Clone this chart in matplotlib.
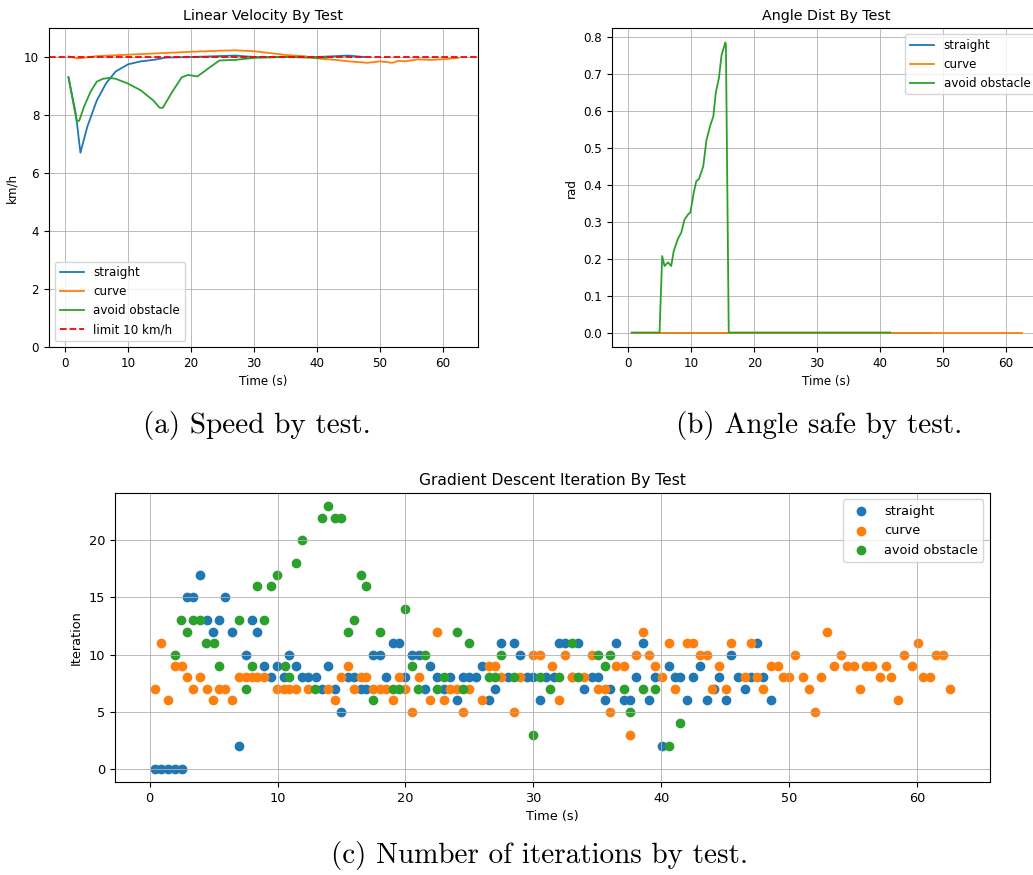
import numpy as np
from matplotlib import pyplot as plt

# ---- speed (km/h) ----
t_v_straight = [0.5, 1.7, 2.4, 3.5, 5.0, 6.5, 8.0, 10.0, 12.0, 14.0, 16.0, 20.0, 27.0, 30.0, 40.0, 45.0, 47.5]
v_straight = [9.3, 8.0, 6.7, 7.6, 8.5, 9.1, 9.5, 9.75, 9.85, 9.9, 9.98, 10.0, 10.05, 10.0, 10.0, 10.05, 10.0]
t_v_curve = [0.5, 2.0, 5.0, 10.0, 15.0, 20.0, 25.0, 27.0, 30.0, 32.0, 35.0, 38.0, 40.0, 43.0, 45.0, 48.0,
             50.0, 52.0, 53.0, 54.0, 56.0, 58.0, 60.0, 62.5]
v_curve = [10.02, 9.95, 10.03, 10.08, 10.13, 10.18, 10.22, 10.23, 10.2, 10.15, 10.07, 10.03, 9.95, 9.9, 9.85, 9.8,
           9.85, 9.8, 9.87, 9.85, 9.92, 9.9, 9.92, 9.97]
t_v_avoid = [0.5, 1.8, 2.2, 3.0, 4.0, 5.0, 6.0, 7.0, 8.0, 10.0, 12.0, 14.0, 15.0, 15.5, 17.0, 18.5, 19.5,
             21.0, 23.0, 24.5, 27.0, 30.0, 35.0, 40.0, 41.5]
v_avoid = [9.3, 7.8, 7.8, 8.3, 8.8, 9.15, 9.25, 9.28, 9.25, 9.08, 8.85, 8.5, 8.25, 8.25, 8.8, 9.3, 9.38,
           9.33, 9.65, 9.88, 9.9, 9.97, 10.0, 9.97, 9.98]

# ---- angle (rad) ----
t_a_straight = [0.5, 48.0]
a_straight = [0.0, 0.0]
t_a_curve = [0.5, 62.5]
a_curve = [0.0, 0.0]
t_a_avoid = [0.5, 4.95, 5.37, 5.74, 6.3, 6.8, 7.2, 7.9, 8.4, 8.9, 9.5, 9.85, 10.4, 10.8, 11.2, 11.9,
             12.4, 13.0, 13.5, 13.9, 14.4, 14.8, 15.4, 15.5, 15.95, 41.6]
a_avoid = [0.0, 0.0, 0.207, 0.18, 0.19, 0.18, 0.22, 0.255, 0.27, 0.305, 0.32, 0.325, 0.38, 0.41, 0.415, 0.45,
           0.52, 0.56, 0.585, 0.65, 0.69, 0.75, 0.785, 0.78, 0.0, 0.0]

# ---- gradient descent iterations ----
t_i_straight = [0.4, 0.9, 1.4, 1.95, 2.5, 2.9, 3.4, 3.96, 4.5, 4.95, 5.4, 5.9, 6.46, 6.95, 7.5, 8.0, 8.4, 8.96,
                9.5, 9.95, 10.5, 10.9, 11.45, 11.95, 12.4, 13.0, 13.5, 13.95, 14.5, 15.0, 15.5, 16.0, 16.5,
                16.95, 17.5, 18.0, 18.5, 19.0, 19.5, 20.0, 20.5, 21.04, 21.5, 21.95, 22.5, 23.0, 23.5, 24.0,
                24.5, 25.0, 25.5, 26.0, 26.5, 27.0, 27.5, 28.0, 28.5, 29.0, 29.5, 30.0, 30.5, 31.0, 31.6,
                32.0, 32.5, 33.0, 33.5, 34.0, 34.6, 35.05, 35.6, 36.0, 36.5, 37.1, 37.6, 38.05, 38.6, 39.06,
                39.5, 40.05, 40.6, 41.05, 41.5, 42.0, 42.5, 43.0, 43.6, 44.1, 44.55, 45.05, 45.5, 46.0,
                46.56, 47.0, 47.5, 48.0, 48.6]
i_straight = [0, 0, 0, 0, 0, 15, 15, 17, 13, 12, 13, 15, 12, 2, 10, 13, 12, 9,
              8, 9, 8, 10, 9, 8, 8, 8, 7, 9, 7, 5, 8, 8, 7,
              7, 10, 10, 8, 11, 11, 8, 10, 10, 7, 9, 8, 7, 8, 6,
              8, 8, 8, 9, 6, 7, 11, 8, 11, 10, 8, 8, 6, 8, 8,
              11, 11, 8, 11, 7, 8, 8, 6, 7, 11, 6, 6, 8, 11, 6,
              8, 2, 9, 8, 8, 6, 8, 9, 6, 7, 8, 6, 10, 8,
              7, 8, 11, 8, 6]
t_i_curve = [0.4, 0.9, 1.4, 1.95, 2.5, 2.9, 3.4, 3.96, 4.5, 4.95, 5.4, 5.9, 6.46, 6.95, 7.5, 8.0, 8.4, 8.96,
             9.95, 10.5, 10.9, 11.45, 12.4, 13.95, 14.5, 15.0, 15.5, 16.0, 16.5, 16.95, 17.5, 18.0,
             18.5, 19.0, 19.5, 20.0, 20.5, 21.04, 21.95, 22.5, 23.0, 23.5, 24.0, 24.5, 25.0, 26.0, 26.5,
             27.0, 27.5, 28.5, 29.0, 30.0, 30.5, 31.5, 32.0, 32.5, 33.0, 34.0, 34.6, 35.05, 35.6, 36.0,
             36.5, 37.1, 37.6, 38.05, 38.6, 39.06, 39.5, 40.05, 40.6, 41.1, 42.0, 42.5, 43.0, 43.6, 44.0,
             44.55, 45.05, 45.5, 46.56, 47.0, 47.5, 48.0, 48.6, 49.1, 49.5, 50.0, 50.5, 51.06, 51.6,
             52.05, 52.5, 53.0, 53.5, 54.1, 54.55, 55.05, 55.55, 56.0, 56.5, 57.1, 57.55, 58.0, 58.5,
             59.0, 59.6, 60.1, 60.5, 61.0, 61.5, 62.05, 62.6]
i_curve = [7, 11, 6, 9, 9, 8, 7, 8, 7, 6, 7, 7, 6, 8, 8, 8, 8, 8,
           7, 7, 7, 7, 7, 7, 6, 8, 9, 7, 8, 8, 7, 7,
           7, 6, 8, 7, 5, 8, 6, 12, 6, 7, 7, 5, 7, 6, 9,
           9, 8, 5, 8, 10, 10, 9, 6, 10, 8, 8, 10, 7, 7, 5,
           9, 9, 3, 10, 12, 10, 9, 8, 11, 7, 11, 11, 10, 10, 7,
           9, 7, 11, 8, 11, 8, 7, 9, 9, 8, 8, 10, 8, 7,
           5, 8, 12, 9, 10, 9, 9, 7, 9, 9, 8, 9, 8, 6,
           10, 9, 11, 8, 8, 10, 10, 7]
t_i_avoid = [1.95, 2.45, 2.9, 3.4, 3.9, 4.4, 5.0, 5.4, 6.95, 7.5, 8.0, 8.4, 8.96, 9.5, 9.95, 10.6, 10.9,
             11.45, 11.95, 12.96, 13.5, 13.95, 14.5, 15.0, 15.5, 16.0, 16.5, 16.95, 17.5, 18.0, 19.0,
             19.5, 20.0, 20.5, 20.96, 21.5, 22.5, 23.0, 24.0, 24.5, 25.0, 26.5, 27.0, 27.5, 28.5, 30.0,
             30.5, 31.3, 32.0, 33.0, 33.5, 35.05, 35.6, 36.0, 37.1, 37.6, 38.6, 39.5, 40.6, 41.5]
i_avoid = [10, 13, 12, 13, 13, 11, 11, 9, 13, 7, 9, 16, 13, 16, 17, 9, 8,
           18, 20, 7, 22, 23, 22, 22, 12, 13, 17, 16, 6, 12, 7,
           7, 14, 9, 7, 10, 7, 8, 12, 7, 11, 8, 8, 10, 8, 3,
           8, 7, 8, 11, 8, 10, 9, 10, 7, 5, 7, 7, 2, 4]

plt.rcParams['font.size'] = 8.6
plt.rcParams['axes.titlesize'] = 10.3
plt.rcParams['lines.linewidth'] = 1.3
plt.rcParams['grid.linewidth'] = 0.6
plt.rcParams['axes.linewidth'] = 0.8

fig = plt.figure(figsize=(10.33, 8.75), dpi=100)

# (a) speed
ax1 = fig.add_axes([0.0474, 0.6034, 0.4153, 0.3646])
ax1.plot(t_v_straight, v_straight, label='straight')
ax1.plot(t_v_curve, v_curve, label='curve')
ax1.plot(t_v_avoid, v_avoid, label='avoid obstacle')
ax1.axhline(10, color='red', linestyle='--', label='limit 10 km/h')
ax1.set_ylim(0, 11)
ax1.set_title('Linear Velocity By Test')
ax1.set_xlabel('Time (s)')
ax1.set_ylabel('km/h')
ax1.grid(True)
ax1.legend(loc='lower left')

# (b) angle
ax2 = fig.add_axes([0.5925, 0.6034, 0.4153, 0.3646])
ax2.plot(t_a_straight, a_straight, label='straight')
ax2.plot(t_a_curve, a_curve, label='curve')
ax2.plot(t_a_avoid, a_avoid, label='avoid obstacle')
ax2.set_title('Angle Dist By Test')
ax2.set_xlabel('Time (s)')
ax2.set_ylabel('rad')
ax2.grid(True)
ax2.legend(loc='upper right')

# (c) iterations
ax3 = fig.add_axes([0.1113, 0.1063, 0.847, 0.3303])
ax3.scatter(t_i_straight, i_straight, s=36, label='straight')
ax3.scatter(t_i_curve, i_curve, s=36, label='curve')
ax3.scatter(t_i_avoid, i_avoid, s=36, label='avoid obstacle')
ax3.set_title('Gradient Descent Iteration By Test', fontsize=11.2)
ax3.set_xlabel('Time (s)', fontsize=9.3)
ax3.set_ylabel('Iteration', fontsize=9.3)
ax3.tick_params(labelsize=9.3)
ax3.grid(True)
ax3.legend(loc='upper right', fontsize=9.3)

# captions
fig.text(0.2488, 1 - 425 / 875, '(a) Speed by test.', family='cmr10', fontsize=21, ha='center', va='center')
fig.text(0.7929, 1 - 425 / 875, '(b) Angle safe by test.', family='cmr10', fontsize=21, ha='center', va='center')
fig.text(0.5218, 1 - 855 / 875, '(c) Number of iterations by test.', family='cmr10', fontsize=21, ha='center', va='center')

fig.savefig('out.png', dpi=100)
